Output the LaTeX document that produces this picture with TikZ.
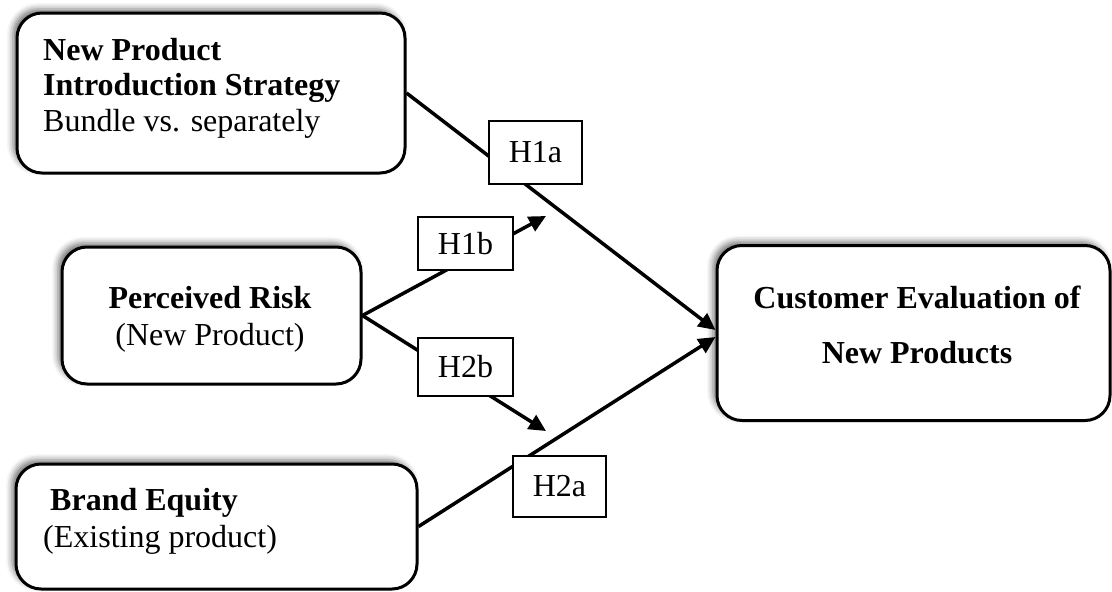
\documentclass[tikz,border=0pt]{standalone}
\usepackage{fontspec}
\setmainfont{Liberation Serif}
\usetikzlibrary{arrows.meta,shadows.blur}
\begin{document}
\begin{tikzpicture}[x=1pt,y=-1pt,
  bigbox/.style={draw=black, line width=3pt, rounded corners=25pt, fill=white, inner sep=0pt,
    blur shadow={shadow xshift=-4pt, shadow yshift=4pt, shadow blur radius=6pt, shadow opacity=55}},
  hyp/.style={draw=black, line width=1.2pt, fill=white, inner sep=0pt, font=\fontsize{32}{36}\selectfont},
  txt/.style={inner sep=0pt, font=\fontsize{32}{36}\selectfont},
  btxt/.style={inner sep=0pt, font=\fontsize{32}{36}\selectfont\bfseries},
  arr/.style={line width=3.5pt, -{Triangle[length=17pt,width=16pt]}}
]
\useasboundingbox (0,0) rectangle (1112,592);

% main boxes
\node[bigbox, minimum width=388pt, minimum height=160pt] (npis) at (211,93) {};
\node[bigbox, minimum width=299pt, minimum height=137pt] (risk) at (211.5,315.5) {};
\node[bigbox, minimum width=401pt, minimum height=125pt] (brand) at (216.5,526.5) {};
\node[bigbox, minimum width=393pt, minimum height=175pt] (cust) at (913.5,333) {};

% box texts
\node[btxt, anchor=base west] (t1a) at (43,60) {New Product};
\node[btxt, anchor=base west] (t1b) at (43,95) {Introduction Strategy};
\node[txt, anchor=base west] (t1c) at (43,131) {Bundle vs. separately};

\node[btxt, anchor=base] (t2a) at (210,308) {Perceived Risk};
\node[txt, anchor=base] (t2b) at (210,345) {(New Product)};

\node[btxt, anchor=base west] (t3a) at (50,510) {Brand Equity};
\node[txt, anchor=base west] (t3b) at (43,547) {(Existing product)};

\node[btxt, anchor=base] (t4a) at (917,308) {Customer Evaluation of};
\node[btxt, anchor=base] (t4b) at (917,363) {New Products};

% connectors
\coordinate (h1bend) at (546,216);
\coordinate (h2bend) at (546,431);
\draw[arr] (npis.east) -- ([yshift=3pt]cust.west);
\draw[arr] (brand.east) -- ([yshift=-4pt]cust.west);
\draw[arr] (risk.east) -- (h1bend);
\draw[arr] (risk.east) -- (h2bend);

% hypothesis labels
\node[hyp, minimum width=93pt, minimum height=63pt] (h1a) at (535.5,152.5) {H1a};
\node[hyp, minimum width=95pt, minimum height=53pt] (h1b) at (465.5,243.5) {H1b};
\node[hyp, minimum width=95pt, minimum height=58pt] (h2b) at (465.5,367) {H2b};
\node[hyp, minimum width=93pt, minimum height=61pt] (h2a) at (559.5,486.5) {H2a};
\end{tikzpicture}
\end{document}
